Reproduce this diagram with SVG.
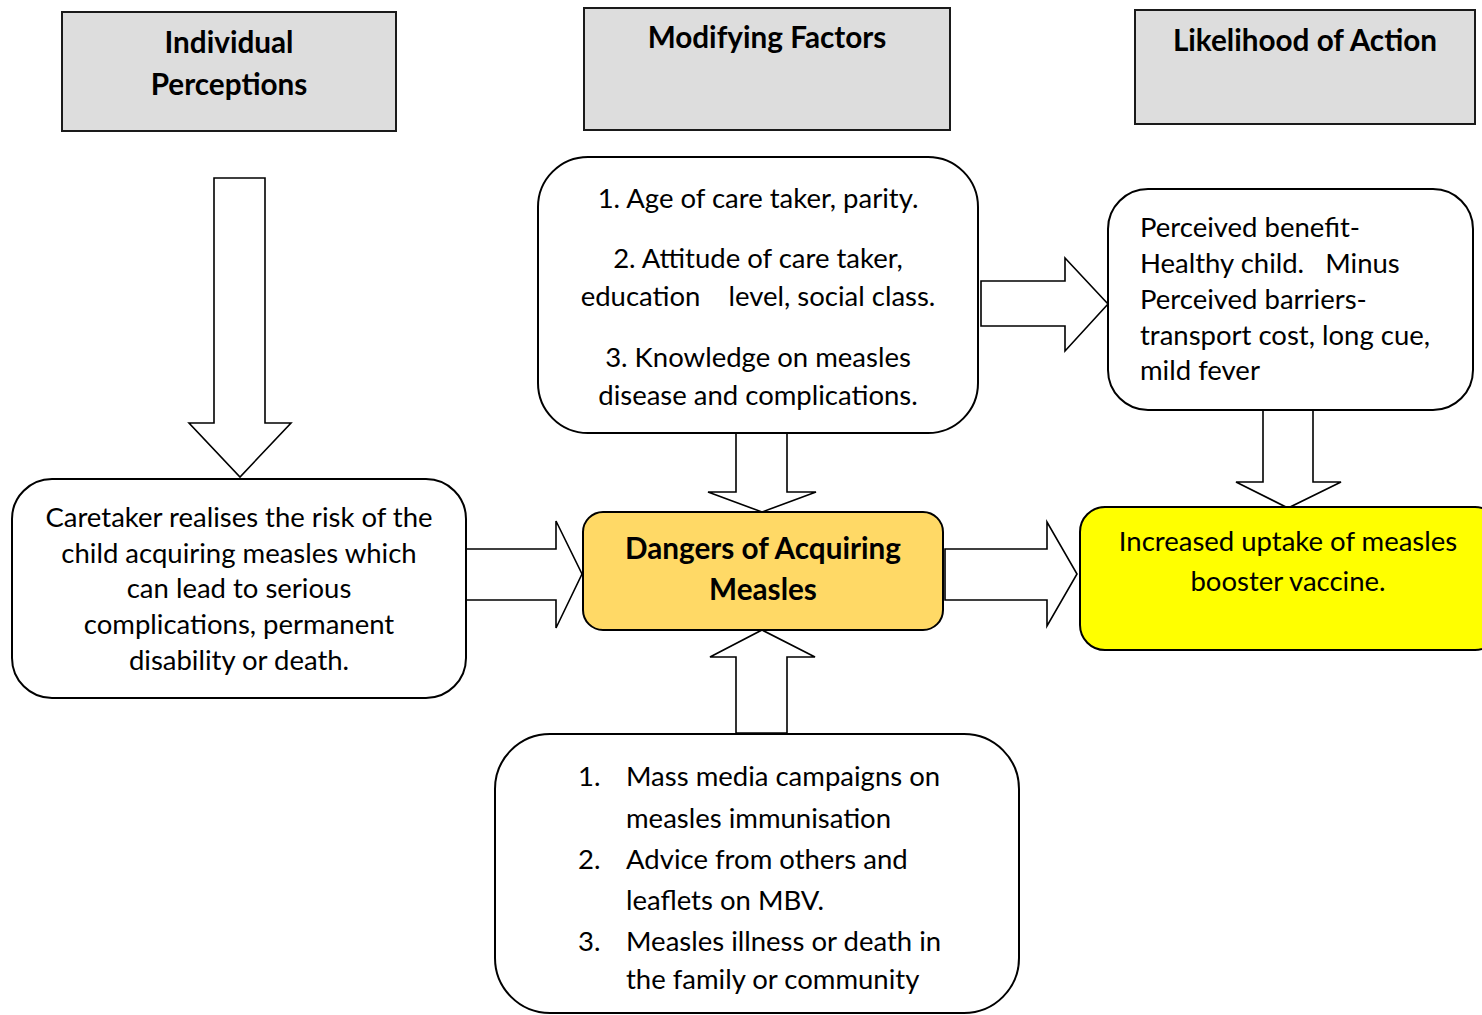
<svg xmlns="http://www.w3.org/2000/svg" width="1482" height="1015" viewBox="0 0 1482 1015">
<style>
.hdr{fill:#dddddd;stroke:#1a1a1a;stroke-width:2}
.box{fill:#ffffff;stroke:#000;stroke-width:2}
.arr{fill:#ffffff;stroke:#000;stroke-width:1.6;stroke-linejoin:miter}
.t{font-family:Lato,"Open Sans","Liberation Sans",sans-serif;font-size:27.5px;fill:#000}
.b{font-family:Lato,"Open Sans","Liberation Sans",sans-serif;font-size:29.7px;font-weight:bold;fill:#000}
.c{text-anchor:middle}
</style>
<rect width="1482" height="1015" fill="#ffffff"/>
<g id="header-individual">
<rect class="hdr" x="62" y="12" width="334" height="119"/>
<text class="b c" x="229" y="53">Individual</text>
<text class="b c" x="229" y="95">Perceptions</text>
</g>
<g id="header-modifying">
<rect class="hdr" x="584" y="8" width="366" height="122"/>
<text class="b c" x="767" y="48">Modifying Factors</text>
</g>
<g id="header-likelihood">
<rect class="hdr" x="1135" y="10" width="340" height="114"/>
<text class="b c" x="1305" y="51">Likelihood of Action</text>
</g>
<g id="connectors">
<polygon class="arr" points="214,178 265,178 265,423 291,423 240,477 189,423 214,423"/>
<polygon class="arr" points="466,549 556,549 556,521 582,574 556,628 556,600 466,600"/>
<polygon class="arr" points="736,433 787,433 787,492 816,492 762,512 708,492 736,492"/>
<polygon class="arr" points="981,281 1065,281 1065,258 1108,304 1065,351 1065,326 981,326"/>
<polygon class="arr" points="1263,410 1313,410 1313,482 1341,482 1288,508 1236,482 1263,482"/>
<polygon class="arr" points="945,549 1047,549 1047,522 1077,574 1047,626 1047,600 945,600"/>
<polygon class="arr" points="736,733 787,733 787,657 815,657 762,630 710,657 736,657"/>
</g>
<g id="caretaker">
<rect class="box" x="12" y="479" width="454" height="219" rx="40"/>
<text class="t c" x="239" y="527">Caretaker realises the risk of the</text>
<text class="t c" x="239" y="563">child acquiring measles which</text>
<text class="t c" x="239" y="598">can lead to serious</text>
<text class="t c" x="239" y="634">complications, permanent</text>
<text class="t c" x="239" y="670">disability or death.</text>
</g>
<g id="modifying">
<rect class="box" x="538" y="157" width="440" height="276" rx="50"/>
<text class="t c" x="758" y="208">1. Age of care taker, parity.</text>
<text class="t c" x="758" y="268">2. Attitude of care taker,</text>
<text class="t c" x="758" y="306" xml:space="preserve">education    level, social class.</text>
<text class="t c" x="758" y="367">3. Knowledge on measles</text>
<text class="t c" x="758" y="405">disease and complications.</text>
</g>
<g id="perception">
<rect class="box" x="1108" y="189" width="365" height="221" rx="40"/>
<text class="t" x="1140" y="237">Perceived benefit-</text>
<text class="t" x="1140" y="273" xml:space="preserve">Healthy child.   Minus</text>
<text class="t" x="1140" y="309">Perceived barriers-</text>
<text class="t" x="1140" y="345">transport cost, long cue,</text>
<text class="t" x="1140" y="380">mild fever</text>
</g>
<g id="dangers">
<rect x="583" y="512" width="360" height="118" rx="20" fill="#ffd966" stroke="#000" stroke-width="2"/>
<text class="b c" x="763" y="559">Dangers of Acquiring</text>
<text class="b c" x="763" y="600">Measles</text>
</g>
<g id="increased">
<rect x="1080" y="507" width="420" height="143" rx="25" fill="#ffff00" stroke="#000" stroke-width="2"/>
<text class="t c" x="1288" y="551">Increased uptake of measles</text>
<text class="t c" x="1288" y="591">booster vaccine.</text>
</g>
<g id="external">
<rect class="box" x="495" y="734" width="524" height="279" rx="55"/>
<text class="t" x="578" y="786">1.</text>
<text class="t" x="626" y="786">Mass media campaigns on</text>
<text class="t" x="626" y="828">measles immunisation</text>
<text class="t" x="578" y="869">2.</text>
<text class="t" x="626" y="869">Advice from others and</text>
<text class="t" x="626" y="910">leaflets on MBV.</text>
<text class="t" x="578" y="951">3.</text>
<text class="t" x="626" y="951">Measles illness or death in</text>
<text class="t" x="626" y="989">the family or community</text>
</g>
</svg>
